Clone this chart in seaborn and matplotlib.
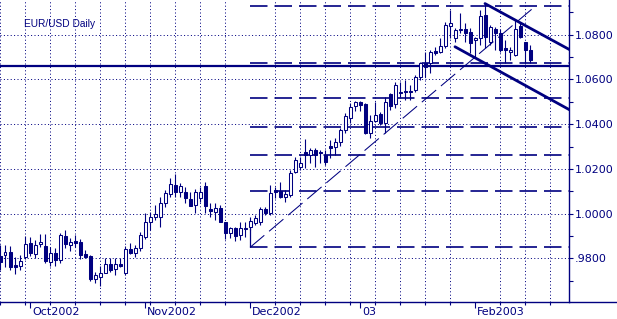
import numpy as np
import pandas as pd
import matplotlib
matplotlib.use("Agg")
import matplotlib.pyplot as plt
import seaborn as sns
from matplotlib.lines import Line2D
from matplotlib.transforms import ScaledTranslation

# ---- data: trading-day index (weekdays from Mon 23 Sep 2002) ----
day = list(range(107))
open_ = [.9809, .9814, .9827, .9769, .9764, .9805, .9867, .9818, .9863, .9854,
         .9782, .9822, .9791, .9899, .9858, .9876, .9872, .9818, .9809, .9706,
         .9715, .9733, .9773, .9751, .9773, .9733, .9840, .9822, .9845, .9894,
         .9961, .9984, .9984, 1.0047, 1.0087, 1.0127, 1.0096, 1.0096, 1.0065, 1.0038,
         1.0069, 1.0123, 1.0020, 1.0006, 1.0024, .9961, .9913, .9935, .9903, .9935,
         .9939, .9957, .9961, 1.0020, 1.0002, 1.0105, 1.0100, 1.0074, 1.0083, 1.0186,
         1.0208, 1.0275, 1.0262, 1.0284, 1.0275, 1.0262, 1.0302, 1.0298, 1.0320, 1.0374,
         1.0428, 1.0482, 1.0500, 1.0491, 1.0361, 1.0414, 1.0446, 1.0405, 1.0535, 1.0491,
         1.0544, 1.0549, 1.0549, 1.0553, 1.0612, 1.0674, 1.0674, 1.0728, 1.0724, 1.0751,
         1.0840, 1.0787, 1.0822, 1.0827, 1.0813, 1.0778, 1.0787, 1.0890, 1.0769, 1.0827,
         1.0809, 1.0742, 1.0724, 1.0710, 1.0840, 1.0769, 1.0733]
high = [.9858, .9858, .9854, .9805, .9814, .9899, .9894, .9881, .9908, .9908,
        .9849, .9845, .9913, .9926, .9890, .9903, .9885, .9836, .9814, .9737,
        .9764, .9800, .9800, .9800, .9800, .9854, .9867, .9858, .9917, 1.0002,
        1.0006, 1.0038, 1.0074, 1.0105, 1.0159, 1.0177, 1.0136, 1.0118, 1.0096, 1.0109,
        1.0118, 1.0141, 1.0047, 1.0047, 1.0038, .9961, .9939, .9939, .9961, .9961,
        .9984, .9993, 1.0029, 1.0029, 1.0127, 1.0118, 1.0141, 1.0105, 1.0195, 1.0253,
        1.0253, 1.0334, 1.0293, 1.0293, 1.0284, 1.0284, 1.0329, 1.0338, 1.0383, 1.0450,
        1.0495, 1.0504, 1.0504, 1.0495, 1.0441, 1.0500, 1.0455, 1.0522, 1.0540, 1.0589,
        1.0589, 1.0598, 1.0576, 1.0621, 1.0679, 1.0724, 1.0733, 1.0746, 1.0787, 1.0858,
        1.0912, 1.0831, 1.0899, 1.0854, 1.0831, 1.0791, 1.0912, 1.0939, 1.0845, 1.0836,
        1.0827, 1.0778, 1.0746, 1.0867, 1.0858, 1.0769, 1.0755]
low = [.9746, .9760, .9746, .9728, .9746, .9796, .9809, .9800, .9849, .9778,
       .9764, .9764, .9778, .9845, .9831, .9849, .9796, .9800, .9701, .9692,
       .9675, .9733, .9737, .9724, .9760, .9724, .9818, .9805, .9831, .9885,
       .9926, .9970, .9939, 1.0029, 1.0074, 1.0074, 1.0074, 1.0047, 1.0033, 1.0002,
       1.0051, 1.0002, .9984, .9970, .9961, .9885, .9890, .9876, .9881, .9894,
       .9926, .9948, .9948, .9993, .9993, 1.0069, 1.0069, 1.0051, 1.0074, 1.0181,
       1.0195, 1.0204, 1.0226, 1.0208, 1.0226, 1.0217, 1.0249, 1.0262, 1.0302, 1.0361,
       1.0405, 1.0459, 1.0459, 1.0356, 1.0338, 1.0410, 1.0396, 1.0361, 1.0464, 1.0473,
       1.0522, 1.0509, 1.0509, 1.0544, 1.0598, 1.0612, 1.0630, 1.0710, 1.0719, 1.0742,
       1.0787, 1.0769, 1.0809, 1.0769, 1.0719, 1.0697, 1.0755, 1.0742, 1.0755, 1.0733,
       1.0724, 1.0674, 1.0688, 1.0706, 1.0787, 1.0674, 1.0674]
close = [.9782, .9827, .9760, .9760, .9787, .9863, .9822, .9858, .9872, .9787,
         .9822, .9791, .9903, .9863, .9872, .9867, .9814, .9805, .9710, .9724,
         .9733, .9773, .9746, .9773, .9764, .9840, .9822, .9845, .9903, .9961,
         .9984, .9997, 1.0047, 1.0092, 1.0132, 1.0096, 1.0123, 1.0069, 1.0033, 1.0096,
         1.0096, 1.0033, 1.0011, 1.0024, .9961, .9913, .9935, .9899, .9935, .9930,
         .9966, .9979, 1.0020, 1.0002, 1.0092, 1.0096, 1.0074, 1.0087, 1.0181, 1.0240,
         1.0226, 1.0262, 1.0284, 1.0262, 1.0271, 1.0231, 1.0293, 1.0320, 1.0374, 1.0437,
         1.0477, 1.0500, 1.0486, 1.0361, 1.0414, 1.0441, 1.0405, 1.0500, 1.0482, 1.0576,
         1.0540, 1.0544, 1.0544, 1.0612, 1.0674, 1.0657, 1.0724, 1.0719, 1.0751, 1.0845,
         1.0854, 1.0822, 1.0827, 1.0809, 1.0764, 1.0787, 1.0885, 1.0791, 1.0836, 1.0809,
         1.0733, 1.0733, 1.0733, 1.0827, 1.0791, 1.0733, 1.0688]

month_pos = [6, 29, 50, 72, 95]
month_labels = ["Oct2002", "Nov2002", "Dec2002", "03", "Feb2003"]
ytick_vals = [0.98, 1.00, 1.02, 1.04, 1.06, 1.08]
ytick_labels = [".9800", "1.0000", "1.0200", "1.0400", "1.0600", "1.0800"]

support_level = 1.0661
fib_levels = [1.0926, 1.0674, 1.0517, 1.0387, 1.0262, 1.0103, 0.9849]
fib_start = 50
fib_stem_y = [0.9849, 0.9935]
fib_diag_x = [50, 107]
fib_diag_y = [0.9849, 1.0926]
chan_upper_x = [97, 114]
chan_upper_y = [1.0939, 1.0732]
chan_lower_x = [91, 114]
chan_lower_y = [1.0746, 1.0463]

NAVY = "#000080"
W, H = 617, 319
XMAX = 113.8

sns.set_theme(style="white")
plt.rcParams["font.family"] = ["DejaVu Sans"]

fig = plt.figure(figsize=(W / 100, H / 100), dpi=100)
fig.patch.set_facecolor("white")
ax = fig.add_axes([0, 17 / H, 569 / W, 302 / H])
ax.set_facecolor("white")

df = pd.DataFrame(dict(day=day, open=open_, high=high, low=low, close=close))
up = (df["close"] >= df["open"]).to_numpy()

# grid
ax.set_xticks(np.arange(0, 114, 5), minor=True)
ax.grid(False)
ax.grid(True, which="minor", axis="x", color=NAVY, lw=0.72, ls=(0, (1, 2.4)))
ax.grid(True, which="major", axis="y", color=NAVY, lw=0.72, ls=(0, (1, 2.4)))
ax.set_axisbelow(True)

# Fibonacci levels
ax.hlines(fib_levels, fib_start, XMAX, color=NAVY, lw=1.2,
          linestyles=[(0, (10.5, 4.2))], zorder=2)
ax.vlines(fib_start, fib_stem_y[0], fib_stem_y[1], color=NAVY, lw=0.9, zorder=2)
sns.lineplot(x=fib_diag_x, y=fib_diag_y, ax=ax, color=NAVY, lw=0.75,
             linestyle=(0, (18, 6)), zorder=2)

# support line
ax.axhline(support_level, color=NAVY, lw=1.6, zorder=2)

# channel
sns.lineplot(x=chan_upper_x, y=chan_upper_y, ax=ax, color=NAVY, lw=2.0, zorder=5)
sns.lineplot(x=chan_lower_x, y=chan_lower_y, ax=ax, color=NAVY, lw=2.0, zorder=5)

# candles
ax.vlines(df["day"], df["low"], df["high"], color=NAVY, lw=0.8, zorder=3)
bottom = np.minimum(df["open"], df["close"])
height = np.maximum(np.abs(df["close"] - df["open"]), 0.0002)
ax.bar(df["day"], height, bottom=bottom, width=0.6,
       color=np.where(up, "white", NAVY), edgecolor=NAVY, linewidth=0.75, zorder=4)

ax.set_xlim(0, XMAX)
ax.set_ylim(0.9605, 1.0955)

# axes styling
for s in ["top", "left"]:
    ax.spines[s].set_visible(False)
for s in ["bottom", "right"]:
    ax.spines[s].set_color(NAVY)
    ax.spines[s].set_linewidth(1.0)

ax.set_xticks(month_pos)
ax.set_xticklabels(month_labels)
ax.tick_params(axis="x", which="major", direction="out", length=4.6, width=0.8,
               color=NAVY, labelcolor=NAVY, labelsize=8, pad=-1, bottom=True)
ax.tick_params(axis="x", which="minor", direction="out", length=2.3, width=0.8,
               color=NAVY, bottom=True)
for lab in ax.get_xticklabels():
    lab.set_ha("left")
    lab.set_transform(lab.get_transform() + ScaledTranslation(2 / 100, 0, fig.dpi_scale_trans))

ax.yaxis.tick_right()
ax.set_yticks(ytick_vals)
ax.set_yticklabels(ytick_labels)
ax.set_yticks(np.arange(0.97, 1.095, 0.02), minor=True)
ax.tick_params(axis="y", which="both", direction="out", length=3, width=0.8,
               color=NAVY, labelcolor=NAVY, labelsize=8, pad=1, right=True, left=False)
ax.set_xlabel("")
ax.set_ylabel("")
if ax.get_legend():
    ax.get_legend().remove()

# bottom line continues to figure edge
fig.add_artist(Line2D([569 / W, 1], [17 / H, 17 / H], color=NAVY, lw=1.0,
                      transform=fig.transFigure))

fig.text(24 / W, 1 - 19 / H, "EUR/USD Daily", color=NAVY, fontsize=7.3,
         family=["Liberation Sans", "DejaVu Sans"], va="top", ha="left")

fig.savefig("out.png", dpi=100, facecolor="white")
